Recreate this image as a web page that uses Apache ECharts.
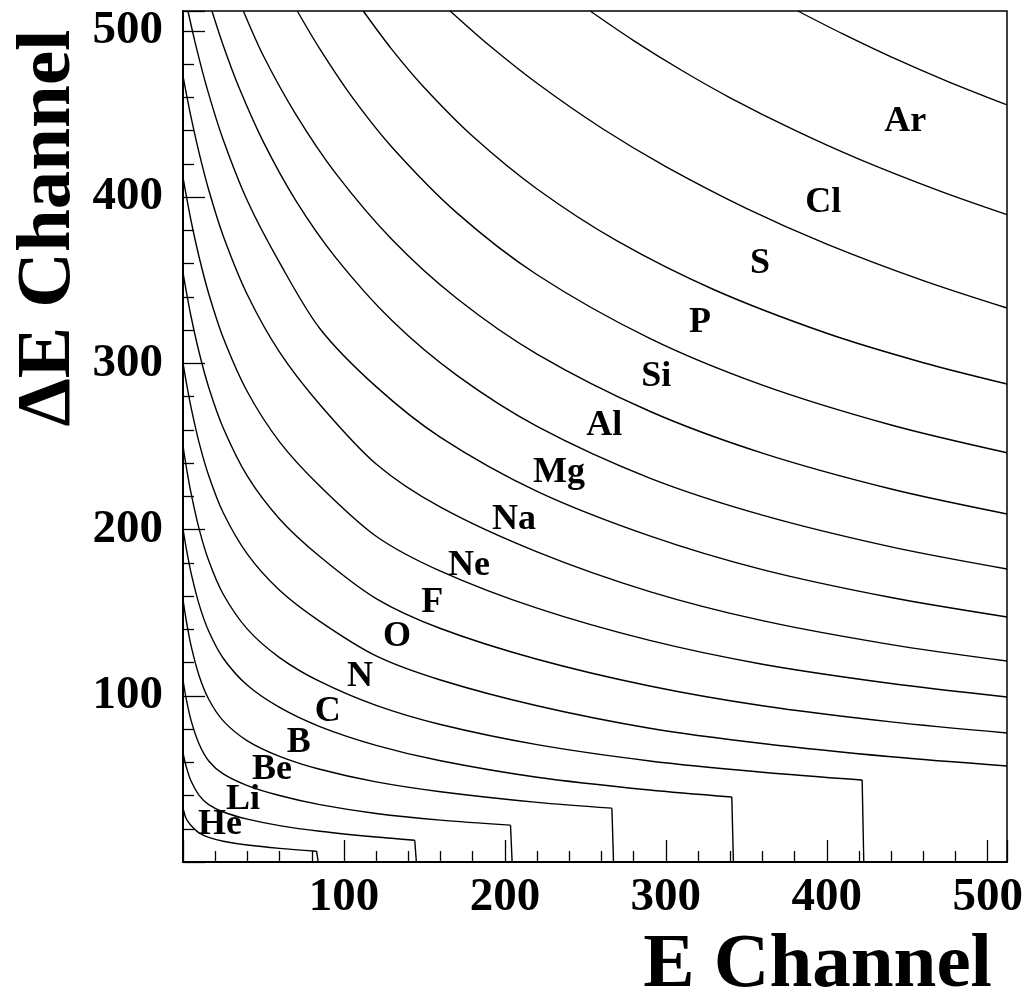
<!DOCTYPE html>
<html>
<head>
<meta charset="utf-8">
<script src="https://cdn.jsdelivr.net/npm/echarts@6/dist/echarts.min.js"></script>
<style>
  html, body { margin: 0; padding: 0; background: #ffffff; }
  #chart { width: 1032px; height: 1000px; }
</style>
</head>
<body>
<div id="chart"></div>
<script>
// Particle-identification bands: ΔE channel versus residual E channel, one curve per ion.
const elementNames = ['He', 'Li', 'Be', 'B', 'C', 'N', 'O', 'F', 'Ne', 'Na', 'Mg', 'Al', 'Si', 'P', 'S', 'Cl', 'Ar', 'K'];

// [E, ΔE] points along each ion band
const He = [[0, 32.5], [2, 26], [5, 22], [10, 17.5], [16, 14.8], [25, 12.5], [40, 10.2], [60, 8.2], [83, 6.5]];
const Li = [[0, 65.6], [2, 57.4], [5, 48.7], [10, 40.1], [16, 34.5], [25, 30.1], [40, 25.8], [60, 21.9], [85, 18.5], [120, 15], [144, 13.1]];
const Be = [[0, 109.5], [2, 98.1], [5, 85.2], [10, 71], [16, 60.8], [25, 53], [40, 46], [60, 40], [85, 34.5], [120, 29.2], [160, 25.2], [203.5, 22.2]];
const B  = [[0, 157.8], [2, 145.4], [5, 130.2], [10, 112.1], [16, 97.9], [25, 84.9], [40, 72.9], [60, 63.6], [85, 55.8], [120, 48.2], [160, 42.3], [220, 35.9], [266.5, 32.4]];
const C  = [[0, 200.5], [2, 188.8], [5, 173.9], [10, 155], [16, 138.8], [25, 122.6], [40, 106.3], [60, 93], [85, 81.5], [120, 70.2], [160, 60.9], [220, 51], [290, 43.3], [341, 39.1]];
const N  = [[0, 250.3], [2, 237.9], [5, 221.9], [10, 200.4], [16, 181.2], [25, 161.1], [40, 140.1], [60, 123], [85, 108.6], [120, 94.2], [160, 82.7], [220, 70.6], [290, 60.8], [360, 54], [422, 49.3]];
const O  = [[0, 300.3], [2, 288.8], [5, 273.5], [10, 252.3], [16, 232.4], [25, 210.1], [40, 185.2], [60, 163.5], [85, 144.8], [120, 124], [160, 109.5], [220, 94], [290, 80.5], [360, 71.3], [440, 63.3], [512, 57.8]];
const F  = [[0, 354.7], [2, 343.5], [5, 328.2], [10, 306.7], [16, 285.5], [25, 261.1], [40, 232.1], [60, 206.4], [85, 183.8], [120, 158.5], [160, 140.5], [220, 122], [290, 105.9], [360, 94], [440, 84.3], [512, 77.6]];
const Ne = [[0, 412], [2, 401], [5, 385.8], [10, 364], [16, 341.9], [25, 315.4], [40, 282.9], [60, 252.8], [85, 226.2], [120, 196], [160, 175], [220, 152.7], [290, 133.3], [360, 119], [440, 107.4], [512, 99.3]];
const Na = [[0, 473], [2, 462.6], [5, 448.1], [10, 426.6], [16, 404.3], [25, 376.7], [40, 341.3], [60, 306.8], [85, 275.3], [120, 239.5], [160, 213.5], [220, 186.6], [290, 162.7], [360, 145.2], [440, 130.8], [512, 120.9]];
const Mg = [[3, 512.3], [8, 491.2], [15, 465.3], [25, 434.5], [40, 397.8], [60, 360.6], [85, 321], [120, 286], [160, 255.5], [220, 223], [290, 196.2], [360, 175.9], [440, 159.1], [512, 147.4]];
const Al = [[18, 512], [25, 491.3], [35, 465.5], [50, 433.1], [70, 398.1], [95, 363.5], [130, 325.6], [170, 292.9], [220, 262.1], [290, 231], [360, 208.7], [440, 189.6], [512, 176.3]];
const Si = [[37.5, 512], [50, 484.9], [70, 450], [95, 414.2], [130, 374.4], [170, 339.2], [220, 305.6], [290, 271.2], [360, 246], [440, 224.4], [512, 209.4]];
const P  = [[71, 512], [85, 489.2], [105, 460.3], [130, 429.9], [170, 390.7], [220, 353.3], [290, 315], [360, 286.9], [440, 262.9], [512, 246.2]];
const S  = [[112, 512], [130, 488.6], [150, 465.8], [180, 436.6], [220, 404.9], [270, 373.5], [330, 344.3], [400, 318.1], [460, 300.4], [512, 287.6]];
const Cl = [[166, 512], [190, 491.5], [220, 468.5], [260, 441.6], [300, 418.4], [350, 393.3], [400, 371.8], [460, 349.8], [512, 333.3]];
const Ar = [[253, 512], [280, 494.2], [310, 476.2], [340, 459.8], [380, 440.3], [420, 422.9], [470, 403.8], [512, 389.5]];
const K  = [[382, 512], [410, 498.2], [440, 484.4], [475, 469.7], [512, 455.5]];

// bands that punch through the E detector drop straight to zero after their last point
const punchEnds = { He: 84, Li: 145, Be: 204.5, B: 267.5, C: 342, N: 423 };

// label anchors [E, ΔE]
const labelPos = {
  He: [23, 22.3], Li: [37.3, 37.3], Be: [55.3, 55.4], B: [72, 71.6], C: [90, 90.3], N: [110, 111.3],
  O: [133, 135.4], F: [154.8, 155.8], Ne: [177.7, 178], Na: [205.7, 205.8], Mg: [233.7, 234],
  Al: [261.7, 262.3], Si: [294, 291.8], P: [321.3, 324.3], S: [358.6, 359.8], Cl: [397.8, 396.5], Ar: [448.7, 445.2]
};

const xTicks = [100, 200, 300, 400, 500];
const yTicks = [100, 200, 300, 400, 500];

const bands = { He, Li, Be, B, C, N, O, F, Ne, Na, Mg, Al, Si, P, S, Cl, Ar, K };

const serif = '"Liberation Serif", "Times New Roman", serif';
const lineStyle = { color: '#000', width: 1.4 };

const series = [];
elementNames.forEach(name => {
  series.push({
    name, type: 'line', data: bands[name], smooth: 0.3, symbol: 'none',
    lineStyle, silent: true, clip: true, z: 3
  });
  if (punchEnds[name] !== undefined) {
    const last = bands[name][bands[name].length - 1];
    series.push({
      name: name + ' punch', type: 'line', data: [last, [punchEnds[name], 0]],
      symbol: 'none', lineStyle, silent: true, z: 3
    });
  }
});

series.push({
  name: 'labels', type: 'scatter', symbolSize: 0, silent: true, z: 5,
  itemStyle: { opacity: 1 },
  data: Object.keys(labelPos).map(k => ({ name: k, value: labelPos[k] })),
  label: {
    show: true, position: 'inside', formatter: p => p.name,
    fontFamily: serif, fontWeight: 'bold', fontSize: 36, color: '#000', opacity: 1
  }
});

const axisCommon = {
  type: 'value', min: 0, max: 512, interval: 100,
  axisLine: { show: true, lineStyle: { color: '#000', width: 2 } },
  axisTick: { show: true, inside: true, length: 22, lineStyle: { color: '#000', width: 1.3 } },
  minorTick: { show: true, splitNumber: 5, length: 11, lineStyle: { color: '#000', width: 1.3 } },
  splitLine: { show: false },
  minorSplitLine: { show: false }
};

const chart = echarts.init(document.getElementById('chart'), null, { renderer: 'canvas' });
chart.setOption({
  backgroundColor: '#ffffff',
  animation: false,
  grid: { left: 183, right: 25, top: 11, bottom: 138, show: true, borderColor: '#000', borderWidth: 1.5 },
  xAxis: Object.assign({}, axisCommon, {
    axisLabel: {
      margin: 12, fontFamily: serif, fontWeight: 'bold', fontSize: 47, color: '#000',
      formatter: v => (xTicks.indexOf(v) >= 0 ? String(v) : '')
    }
  }),
  yAxis: Object.assign({}, axisCommon, {
    axisLabel: {
      margin: 20, fontFamily: serif, fontWeight: 'bold', fontSize: 47, color: '#000',
      formatter: v => (yTicks.indexOf(v) >= 0 ? String(v) : '')
    }
  }),
  graphic: [
    {
      type: 'text', x: 992, y: 966, silent: true,
      style: { text: 'E Channel', font: 'bold 77px ' + serif, fill: '#000', textAlign: 'right', textVerticalAlign: 'middle' }
    },
    {
      type: 'text', x: 49, y: 228, rotation: Math.PI / 2, silent: true,
      style: { text: 'ΔE Channel', font: 'bold 77px ' + serif, fill: '#000', textAlign: 'center', textVerticalAlign: 'middle' }
    }
  ],
  series
});
</script>
</body>
</html>
